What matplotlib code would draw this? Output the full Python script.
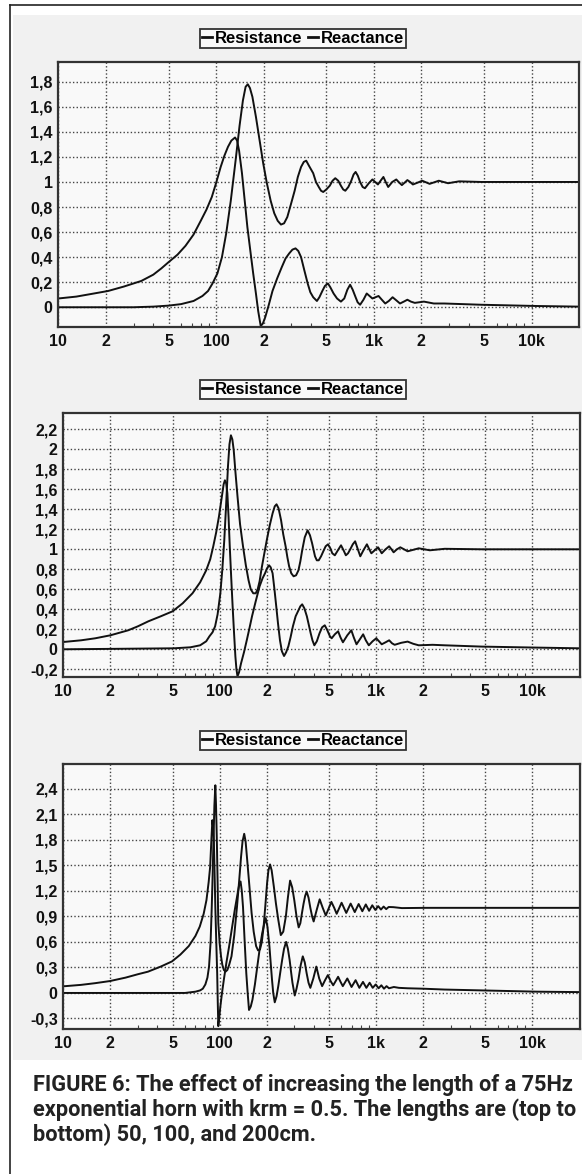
import matplotlib
matplotlib.use("Agg")
import matplotlib.pyplot as plt
from matplotlib.lines import Line2D
from matplotlib.patches import Rectangle
from matplotlib.ticker import FixedLocator, FixedFormatter, LogLocator, NullFormatter

# x axis: frequency (Hz), same for all three panels
x_ticks = [10, 20, 50, 100, 200, 500, 1000, 2000, 5000, 10000]
x_labels = ["10", "2", "5", "100", "2", "5", "1k", "2", "5", "10k"]

# panel 1: length 50cm  (frequency in Hz, normalised impedance)
p1_res_f = [10, 30, 40, 50, 60, 72, 82, 89, 95, 102, 109, 116, 124, 133, 141, 148, 154, 159, 164, 170,
            179, 189, 199, 210, 222, 234, 246, 258, 270, 283, 298, 315, 330, 346, 360, 373, 388, 413, 430, 448,
            463, 478, 500, 526, 548, 570, 595, 619, 640, 660, 690, 720, 745, 767, 792, 819, 850, 879, 930, 980,
            1020, 1062, 1105, 1151, 1190, 1234, 1310, 1389, 1450, 1507, 1570, 1633, 1700, 1770, 1900, 2027,
            2259, 2585, 2958, 3475, 4800, 20000]
p1_res_v = [0, 0, 0.005, 0.013, 0.025, 0.05, 0.09, 0.13, 0.19, 0.27, 0.4, 0.59, 0.85, 1.17, 1.45, 1.65, 1.76, 1.78, 1.75, 1.68,
            1.52, 1.33, 1.15, 0.99, 0.85, 0.75, 0.69, 0.66, 0.67, 0.72, 0.82, 0.93, 1.04, 1.12, 1.16, 1.17, 1.13, 1.07, 1.0, 0.96,
            0.93, 0.92, 0.94, 0.97, 1.01, 1.03, 1.01, 0.97, 0.94, 0.93, 0.96, 1.01, 1.06, 1.08, 1.05, 1.0, 0.96, 0.95, 0.99, 1.02,
            1.0, 0.98, 1.01, 1.04, 1.0, 0.96, 1.0, 1.02, 0.995, 0.975, 0.995, 1.015, 1.0, 0.98, 0.995, 1.01,
            0.985, 1.01, 0.99, 1.005, 1.0, 1.0]
p1_rea_f = [10, 13, 16, 20.7, 26, 33.6, 40, 45, 50, 57, 64, 72, 80, 87, 94, 100, 107, 113, 119, 125,
            132, 136, 140, 146, 152, 158, 165, 172, 179, 185, 192, 198, 205, 215, 228, 244, 261, 276, 291, 305,
            319, 332, 346, 362, 381, 396, 413, 436, 452, 472, 490, 512, 530, 556, 585, 619, 650, 680, 708, 735,
            767, 790, 819, 860, 902, 940, 980, 1025, 1072, 1125, 1182, 1245, 1316, 1390, 1466, 1550, 1633, 1720,
            1820, 2080, 2400, 2800, 4800, 10800, 20000]
p1_rea_v = [0.07, 0.085, 0.105, 0.13, 0.165, 0.21, 0.26, 0.31, 0.36, 0.42, 0.49, 0.58, 0.69, 0.78, 0.88, 0.99, 1.12, 1.21, 1.28, 1.33,
            1.355, 1.33, 1.25, 1.07, 0.85, 0.64, 0.45, 0.27, 0.11, -0.03, -0.15, -0.13, -0.08, 0.01, 0.13, 0.23, 0.32, 0.39, 0.43, 0.46,
            0.47, 0.45, 0.40, 0.3, 0.19, 0.12, 0.08, 0.05, 0.08, 0.13, 0.17, 0.19, 0.16, 0.11, 0.07, 0.045, 0.07, 0.14, 0.18, 0.14,
            0.08, 0.04, 0.02, 0.06, 0.11, 0.09, 0.07, 0.08, 0.09, 0.06, 0.03, 0.05, 0.08, 0.055, 0.03, 0.045, 0.06, 0.045,
            0.035, 0.045, 0.03, 0.03, 0.02, 0.01, 0.005]

# panel 2: length 100cm
p2_res_f = [10, 51, 65, 75, 82, 86, 90, 93.5, 97, 101, 104, 107, 110, 113, 115.5, 118, 120.5, 123, 126, 130,
            135, 141, 147, 153, 158, 164, 170, 175, 180, 185, 192, 200, 209, 218, 225, 231, 238, 247, 255, 264,
            271, 278, 287, 297, 308, 319, 328, 337, 350, 365, 378, 390, 407, 418, 430, 445, 460, 476, 493, 510,
            525, 545, 570, 597, 620, 641, 662, 684, 710, 735, 765, 793, 830, 874, 905, 933, 980, 1030, 1060, 1087,
            1150, 1213, 1255, 1295, 1360, 1429, 1510, 1592, 1730, 1875, 2208, 2748, 4740, 20000]
p2_res_v = [0, 0.01, 0.02, 0.04, 0.08, 0.13, 0.17, 0.23, 0.35, 0.56, 0.8, 1.09, 1.45, 1.83, 2.05, 2.14, 2.1, 1.99, 1.78, 1.53,
            1.25, 1.03, 0.84, 0.69, 0.6, 0.56, 0.56, 0.6, 0.68, 0.8, 0.94, 1.09, 1.24, 1.36, 1.43, 1.45, 1.41, 1.29, 1.15, 1.03,
            0.92, 0.83, 0.76, 0.73, 0.74, 0.79, 0.88, 0.99, 1.12, 1.19, 1.14, 1.06, 0.93, 0.89, 0.89, 0.93, 0.98, 1.03, 1.05, 1.01,
            0.96, 0.94, 0.99, 1.04, 0.99, 0.94, 0.96, 1.0, 1.05, 1.08, 1.0, 0.93, 0.99, 1.05, 1.0, 0.96, 0.99, 1.02, 0.99, 0.96,
            1.0, 1.03, 1.0, 0.97, 1.0, 1.02, 1.0, 0.98, 0.995, 1.01, 0.99, 1.005, 1.0, 1.0]
p2_rea_f = [10, 13, 16, 20, 26, 30, 35, 42, 50, 58, 67, 75, 82, 87, 91, 95, 99, 102, 104, 106,
            108, 110, 112, 114, 116, 118.5, 121, 123.5, 126, 128, 130, 133, 137, 143, 149, 155, 161, 170, 180, 188,
            195, 201, 207, 212, 218, 224, 230, 236, 243, 250, 258, 266, 275, 284, 294, 306, 319, 328, 337, 348,
            361, 372, 382, 392, 403, 418, 435, 452, 470, 488, 507, 520, 545, 572, 592, 614, 655, 695, 720, 750,
            788, 827, 860, 899, 950, 1003, 1045, 1087, 1150, 1213, 1265, 1315, 1450, 1592, 1730, 1875, 2300, 2748,
            4740, 10700, 20000]
p2_rea_v = [0.073, 0.09, 0.11, 0.14, 0.19, 0.23, 0.28, 0.33, 0.38, 0.46, 0.56, 0.67, 0.79, 0.9, 1.03, 1.17, 1.33, 1.47, 1.56, 1.65,
            1.69, 1.66, 1.56, 1.32, 1.03, 0.72, 0.43, 0.17, -0.07, -0.2, -0.27, -0.23, -0.14, -0.03, 0.09, 0.21, 0.33, 0.48, 0.63, 0.71,
            0.76, 0.81, 0.84, 0.82, 0.76, 0.6, 0.43, 0.26, 0.09, -0.02, -0.067, -0.03, 0.03, 0.12, 0.23, 0.33, 0.39, 0.43, 0.45, 0.41,
            0.33, 0.24, 0.16, 0.09, 0.04, 0.08, 0.16, 0.22, 0.24, 0.19, 0.13, 0.11, 0.15, 0.18, 0.12, 0.07, 0.14, 0.19, 0.12, 0.05,
            0.1, 0.15, 0.09, 0.04, 0.08, 0.11, 0.08, 0.05, 0.07, 0.09, 0.06, 0.045, 0.065, 0.077, 0.055, 0.04, 0.045, 0.04,
            0.027, 0.017, 0.01]

# panel 3: length 200cm
p3_res_f = [10, 60, 70, 75, 78, 81, 83.5, 85.5, 87.5, 89, 90.2, 91.3, 92.5, 93.8, 94.8, 95.9, 97, 98, 100, 102,
            104, 106.4, 109, 112, 115, 119, 124, 129, 133, 137, 140, 143.5, 146.5, 150, 155, 160, 165, 171, 176, 181,
            186, 191, 196, 201, 205, 210, 215, 222, 229, 237, 246, 255, 265, 273, 282, 291, 300, 310, 320,
            328, 336, 344, 352, 360, 370, 380, 390, 399, 418, 436, 456, 477, 497, 518, 540, 560, 602, 645, 688,
            731, 774, 817, 860, 903, 946, 989, 1032, 1075, 1118, 1161, 1204, 1290, 1462, 2084, 4730, 20000]
p3_res_v = [0, 0, 0.015, 0.03, 0.05, 0.1, 0.18, 0.31, 0.6, 1.01, 1.4, 1.8, 2.2, 2.44, 2.2, 1.8, 1.3, 0.82, 0.58, 0.43,
            0.33, 0.27, 0.25, 0.27, 0.33, 0.43, 0.68, 1.01, 1.3, 1.6, 1.78, 1.87, 1.78, 1.56, 1.25, 0.94, 0.72, 0.55, 0.5, 0.51,
            0.6, 0.78, 1.03, 1.29, 1.44, 1.51, 1.44, 1.25, 1.05, 0.86, 0.68, 0.72, 0.9, 1.12, 1.32, 1.24, 1.09, 0.9, 0.77,
            0.82, 0.94, 1.05, 1.14, 1.19, 1.12, 1.0, 0.9, 0.84, 0.98, 1.1, 1.0, 0.91, 0.99, 1.07, 1.0, 0.93, 1.06, 0.94, 1.05,
            0.95, 1.045, 0.96, 1.04, 0.965, 1.03, 0.975, 1.02, 0.98, 1.015, 0.985, 1.01, 1.008, 0.997, 1.0, 1.0, 1.0]
p3_rea_f = [10, 13, 16, 19.9, 25, 30, 34.8, 42, 49.5, 56, 63.4, 70, 74.6, 79, 82.3, 85, 86.9, 88.5, 89.8, 90.8,
            91.8, 92.8, 93.8, 95.1, 96.4, 97.2, 98, 99.5, 101, 103.5, 106.4, 110.5, 115, 120, 125, 130, 133, 136, 138.5, 141,
            144.5, 148, 151, 154, 158, 162, 168, 174, 180, 187, 192, 197, 202, 208, 212, 216, 220, 225, 231, 237,
            244, 251, 258, 266, 273, 280, 286, 292, 302, 310, 319, 330, 340, 350, 360, 370, 380, 397, 415,
            433, 452, 472, 492, 512, 532, 552, 572, 593, 613, 655, 697, 740, 782, 825, 867, 910, 952, 995, 1038,
            1081, 1124, 1167, 1210, 1300, 1400, 1588, 2000, 2742, 4730, 10740, 20000]
p3_rea_v = [0.078, 0.095, 0.115, 0.14, 0.18, 0.22, 0.25, 0.31, 0.37, 0.45, 0.55, 0.67, 0.78, 0.93, 1.09, 1.3, 1.48, 1.8, 2.03, 1.95,
            1.79, 1.4, 1.01, 0.6, 0.23, -0.1, -0.39, -0.28, -0.16, 0.0, 0.16, 0.36, 0.55, 0.77, 0.98, 1.16, 1.26, 1.31, 1.2, 1.01,
            0.6, 0.23, 0.0, -0.2, -0.16, -0.08, 0.1, 0.31, 0.51, 0.7, 0.8, 0.88, 0.78, 0.55, 0.35, 0.16, 0.0, -0.11, -0.04, 0.08,
            0.24, 0.39, 0.52, 0.6, 0.52, 0.39, 0.25, 0.12, -0.03, 0.05, 0.16, 0.33, 0.43, 0.36, 0.23, 0.12, 0.06, 0.17, 0.31,
            0.17, 0.08, 0.15, 0.21, 0.14, 0.09, 0.14, 0.19, 0.13, 0.08, 0.17, 0.07, 0.15, 0.06, 0.13, 0.06, 0.12, 0.06, 0.1, 0.055,
            0.09, 0.05, 0.08, 0.055, 0.07, 0.06, 0.055, 0.05, 0.04, 0.03, 0.015, 0.01]

p1_yticks = [0, 0.2, 0.4, 0.6, 0.8, 1.0, 1.2, 1.4, 1.6, 1.8]
p2_yticks = [-0.2, 0, 0.2, 0.4, 0.6, 0.8, 1.0, 1.2, 1.4, 1.6, 1.8, 2.0, 2.2]
p3_yticks = [-0.3, 0, 0.3, 0.6, 0.9, 1.2, 1.5, 1.8, 2.1, 2.4]

caption = ["FIGURE 6: The effect of increasing the length of a 75Hz",
           "exponential horn with krm = 0.5. The lengths are (top to",
           "bottom) 50, 100, and 200cm."]

W, H = 582, 1174
fig = plt.figure(figsize=(W / 100, H / 100), dpi=100)
fig.patch.set_facecolor("white")

# grey chart background and the outer frame
fig.patches.append(Rectangle((13 / W, 1 - 1060 / H), 1, (1060 - 15) / H,
                             transform=fig.transFigure, facecolor="#f1f1f1",
                             edgecolor="none", zorder=-10))
fig.lines.append(Line2D([9.5 / W, 9.5 / W], [0, 1 - 5 / H], transform=fig.transFigure,
                        color="#222222", lw=1.2, zorder=-5))
fig.lines.append(Line2D([9.5 / W, 1], [1 - 5 / H, 1 - 5 / H], transform=fig.transFigure,
                        color="#222222", lw=1.2, zorder=-5))


def yfmt(v):
    s = ("%.1f" % v).replace(".", ",")
    if s.endswith(",0"):
        s = s[:-2]
    if s == "-0":
        s = "0"
    return s


def panel(box, rf, rv, xf, xv, ylim, yticks, legend_y):
    l, t, r, b = box
    ax = fig.add_axes([l / W, 1 - b / H, (r - l) / W, (b - t) / H])
    ax.set_facecolor("#f9f9f9")
    h1, = ax.plot(rf, rv, color="#111111", lw=1.4, label="Resistance")
    h2, = ax.plot(xf, xv, color="#111111", lw=1.4, label="Reactance")
    ax.set_xscale("log")
    ax.set_xlim(10, 20000)
    ax.set_ylim(*ylim)
    ax.xaxis.set_major_locator(FixedLocator(x_ticks))
    ax.xaxis.set_major_formatter(FixedFormatter(x_labels))
    ax.xaxis.set_minor_locator(LogLocator(base=10, subs=[3, 4, 6, 7, 8, 9], numticks=20))
    ax.xaxis.set_minor_formatter(NullFormatter())
    ax.set_yticks(yticks)
    ax.set_yticklabels([yfmt(v) for v in yticks])
    ax.grid(True, which="major", color="#444444", lw=1.0, ls=(0, (1, 1.6)))
    ax.tick_params(axis="both", which="major", length=0, pad=4, labelsize=11.5, labelcolor="#111111")
    ax.tick_params(axis="x", which="minor", direction="in", length=3, width=0.8,
                   color="#444444", top=False)
    ax.tick_params(axis="x", which="major", pad=5)
    for lab in ax.get_xticklabels() + ax.get_yticklabels():
        lab.set_fontfamily("Liberation Sans")
        lab.set_fontweight("bold")
    for sp in ax.spines.values():
        sp.set_color("#333333")
        sp.set_linewidth(1.6)
    leg = ax.legend(handles=[h1, h2], loc="center", bbox_to_anchor=(303 / W, 1 - legend_y / H),
                    bbox_transform=fig.transFigure, ncol=2, handlelength=0.6,
                    handletextpad=0.15, columnspacing=0.35, borderpad=0.12,
                    borderaxespad=0, fancybox=False, framealpha=1,
                    prop={"family": "Liberation Sans", "weight": "bold", "size": 12})
    leg.get_frame().set_edgecolor("#333333")
    leg.get_frame().set_linewidth(1.3)
    leg.get_frame().set_facecolor("#f9f9f9")
    for hl in leg.get_lines():
        hl.set_linewidth(2.0)
    return ax


panel((58.3, 61.7, 579, 327.3), p1_res_f, p1_res_v, p1_rea_f, p1_rea_v,
      (-0.16, 1.96), p1_yticks, 38.5)
panel((63.3, 413.3, 579.5, 677.3), p2_res_f, p2_res_v, p2_rea_f, p2_rea_v,
      (-0.28, 2.36), p2_yticks, 389.5)
panel((63.3, 764, 579.5, 1028.7), p3_res_f, p3_res_v, p3_rea_f, p3_rea_v,
      (-0.42, 2.69), p3_yticks, 740.5)

for i, line in enumerate(caption):
    fig.text(33 / W, 1 - (1085 + 25 * i) / H, line, ha="left", va="center",
             fontsize=15.7, family="Roboto", fontweight="bold", color="#222222")

fig.savefig("out.png", dpi=100, facecolor=fig.get_facecolor())
